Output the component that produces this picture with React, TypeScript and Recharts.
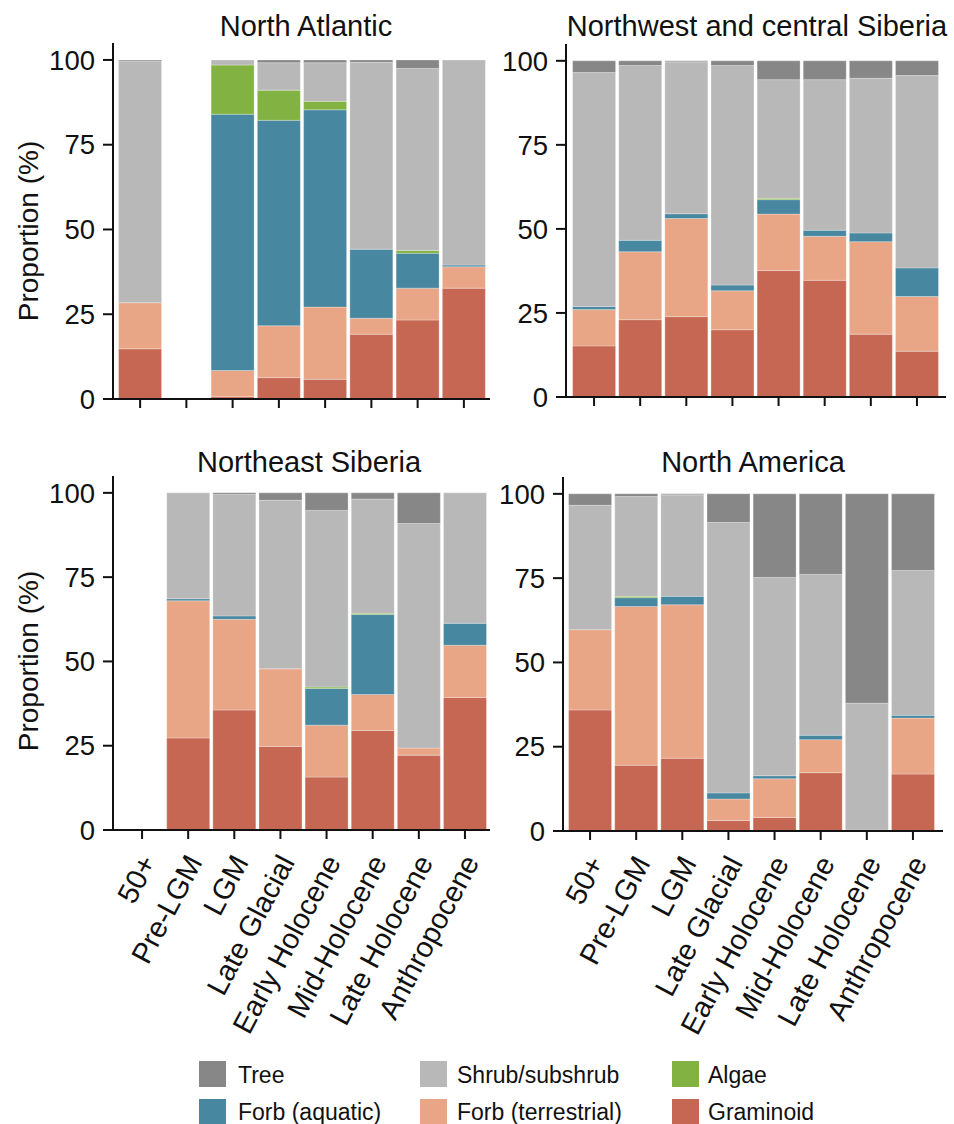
import React from 'react';
import { BarChart, Bar, XAxis, YAxis } from 'recharts';

const categories = ['50+', 'Pre-LGM', 'LGM', 'Late Glacial', 'Early Holocene', 'Mid-Holocene', 'Late Holocene', 'Anthropocene'];

const seriesKeys = ['graminoid', 'forbTerr', 'forbAq', 'algae', 'shrub', 'tree'];
const seriesNames = ['Graminoid', 'Forb (terrestrial)', 'Forb (aquatic)', 'Algae', 'Shrub/subshrub', 'Tree'];
const seriesColors = ['#c66753', '#e8a686', '#4787a0', '#82b242', '#b8b8b8', '#878787'];

const yTicks = [0, 25, 50, 75, 100];

// North Atlantic
const naGraminoid = [14.8, 0, 0.7, 6.3, 5.8, 19.1, 23.3, 32.7];
const naForbTerr = [13.6, 0, 7.7, 15.3, 21.3, 4.7, 9.4, 6.3];
const naForbAq = [0, 0, 75.6, 60.6, 58.2, 20.4, 10.3, 0.5];
const naAlgae = [0, 0, 14.5, 8.9, 2.5, 0, 0.8, 0];
const naShrub = [71.3, 0, 1.5, 8.1, 11.4, 55.1, 53.7, 60.5];
const naTree = [0.3, 0, 0, 0.8, 0.8, 0.7, 2.5, 0];

// Northwest and central Siberia
const nwGraminoid = [15.2, 23.0, 23.9, 20.0, 37.6, 34.7, 18.7, 13.6];
const nwForbTerr = [10.8, 20.2, 29.2, 11.6, 16.8, 13.1, 27.5, 16.3];
const nwForbAq = [0.9, 3.4, 1.4, 1.7, 4.3, 1.8, 2.6, 8.5];
const nwAlgae = [0, 0, 0, 0, 0.4, 0, 0, 0];
const nwShrub = [69.6, 52.0, 45.2, 65.3, 35.3, 44.8, 46.0, 57.2];
const nwTree = [3.5, 1.4, 0.3, 1.4, 5.6, 5.6, 5.2, 4.4];

// Northeast Siberia
const neGraminoid = [0, 27.3, 35.6, 24.8, 15.7, 29.5, 22.2, 39.3];
const neForbTerr = [0, 40.7, 26.9, 23.0, 15.4, 10.7, 2.1, 15.5];
const neForbAq = [0, 0.6, 1.0, 0, 10.9, 23.7, 0, 6.5];
const neAlgae = [0, 0, 0, 0, 0.4, 0.4, 0, 0];
const neShrub = [0, 31.4, 36.0, 50.0, 52.4, 33.9, 66.6, 38.7];
const neTree = [0, 0, 0.5, 2.2, 5.2, 1.8, 9.1, 0];

// North America
const amGraminoid = [35.9, 19.5, 21.6, 3.1, 4.0, 17.3, 0.1, 16.9];
const amForbTerr = [23.8, 47.1, 45.5, 6.4, 11.5, 9.8, 0.2, 16.6];
const amForbAq = [0, 2.6, 2.5, 1.8, 0.9, 1.3, 0, 0.8];
const amAlgae = [0, 0.4, 0, 0, 0, 0, 0, 0];
const amShrub = [36.9, 29.6, 30.1, 80.2, 58.8, 47.7, 37.6, 43.0];
const amTree = [3.4, 0.8, 0.3, 8.5, 24.8, 23.9, 62.1, 22.7];

const FONT = '"Liberation Sans", Arial, Helvetica, sans-serif';
const INK = '#111';

function buildRows(cols: number[][]) {
  return categories.map((cat, i) => {
    const row: Record<string, any> = { cat };
    seriesKeys.forEach((k, s) => {
      row[k] = cols[s][i];
    });
    return row;
  });
}

const naRows = buildRows([naGraminoid, naForbTerr, naForbAq, naAlgae, naShrub, naTree]);
const nwRows = buildRows([nwGraminoid, nwForbTerr, nwForbAq, nwAlgae, nwShrub, nwTree]);
const neRows = buildRows([neGraminoid, neForbTerr, neForbAq, neAlgae, neShrub, neTree]);
const amRows = buildRows([amGraminoid, amForbTerr, amForbAq, amAlgae, amShrub, amTree]);

const EmptyTick = () => <g />;

const RotTick = (props: any) => {
  const { x, y, payload } = props;
  const ax = x + 15;
  const ay = y + 21;
  return (
    <text
      x={ax}
      y={ay}
      transform={`rotate(-62, ${ax}, ${ay})`}
      textAnchor="end"
      fontSize={29}
      fontFamily={FONT}
      fill={INK}
    >
      {payload.value}
    </text>
  );
};

type PanelProps = {
  rows: any[];
  left: number;
  top: number;
  width: number;
  height: number;
  yAxisWidth: number;
  margin: { top: number; right: number; bottom: number; left: number };
  padding: { left: number; right: number };
  xAxisHeight: number;
  showLabels: boolean;
};

function Panel(p: PanelProps) {
  return (
    <div style={{ position: 'absolute', left: p.left, top: p.top, width: p.width, height: p.height }}>
      <BarChart width={p.width} height={p.height} data={p.rows} margin={p.margin} barCategoryGap={1.6}>
        {seriesKeys.map((k, i) => (
          <Bar
            key={k}
            dataKey={k}
            name={seriesNames[i]}
            stackId="s"
            fill={seriesColors[i]}
            stroke="#ffffff"
            strokeOpacity={0.35}
            strokeWidth={0.8}
            isAnimationActive={false}
          />
        ))}
        <XAxis
          dataKey="cat"
          type="category"
          interval={0}
          padding={p.padding}
          height={p.xAxisHeight}
          tickSize={9}
          tickMargin={2}
          axisLine={{ stroke: INK, strokeWidth: 2 }}
          tickLine={{ stroke: INK, strokeWidth: 2 }}
          tick={p.showLabels ? <RotTick /> : <EmptyTick />}
        />
        <YAxis
          type="number"
          domain={[0, 105]}
          ticks={yTicks}
          allowDataOverflow
          width={p.yAxisWidth}
          tickSize={10}
          tickMargin={8}
          axisLine={{ stroke: INK, strokeWidth: 2 }}
          tickLine={{ stroke: INK, strokeWidth: 2 }}
          tick={{ fontSize: 27.5, fill: INK, fontFamily: FONT }}
        />
      </BarChart>
    </div>
  );
}

const titles = [
  { text: 'North Atlantic', x: 306, y: 36 },
  { text: 'Northwest and central Siberia', x: 757, y: 36 },
  { text: 'Northeast Siberia', x: 309, y: 472 },
  { text: 'North America', x: 753, y: 472 },
];

const yLabels = [
  { x: 38, y: 231 },
  { x: 38, y: 661 },
];

const legendOrder = [5, 4, 3, 2, 1, 0];
const legendCols = [
  { sx: 199, tx: 238 },
  { sx: 420, tx: 457 },
  { sx: 672, tx: 708 },
];
const legendRows = [
  { sy: 1061, ty: 1083 },
  { sy: 1099, ty: 1120 },
];

export default function App() {
  return (
    <div style={{ position: 'absolute', left: 0, top: 0, width: 954, height: 1124, overflow: 'hidden', background: '#fff' }}>
      <Panel
        rows={naRows}
        left={0}
        top={0}
        width={500}
        height={440}
        yAxisWidth={113}
        margin={{ top: 43, right: 10, bottom: 11, left: 0 }}
        padding={{ left: 4, right: 3 }}
        xAxisHeight={30}
        showLabels={false}
      />
      <Panel
        rows={nwRows}
        left={480}
        top={0}
        width={474}
        height={440}
        yAxisWidth={86}
        margin={{ top: 44, right: 8, bottom: 13, left: 0 }}
        padding={{ left: 5, right: 6 }}
        xAxisHeight={30}
        showLabels={false}
      />
      <Panel
        rows={neRows}
        left={0}
        top={440}
        width={500}
        height={610}
        yAxisWidth={113}
        margin={{ top: 36, right: 10, bottom: 20, left: 0 }}
        padding={{ left: 6, right: 2 }}
        xAxisHeight={200}
        showLabels={true}
      />
      <Panel
        rows={amRows}
        left={480}
        top={440}
        width={474}
        height={610}
        yAxisWidth={83}
        margin={{ top: 37, right: 11, bottom: 19, left: 0 }}
        padding={{ left: 4, right: 7 }}
        xAxisHeight={200}
        showLabels={true}
      />
      <svg
        width={954}
        height={1124}
        style={{ position: 'absolute', left: 0, top: 0, pointerEvents: 'none' }}
      >
        {titles.map((t) => (
          <text key={t.text} x={t.x} y={t.y} textAnchor="middle" fontSize={29} fontFamily={FONT} fill={INK}>
            {t.text}
          </text>
        ))}
        {yLabels.map((l, i) => (
          <text
            key={i}
            x={l.x}
            y={l.y}
            transform={`rotate(-90, ${l.x}, ${l.y})`}
            textAnchor="middle"
            fontSize={28}
            fontFamily={FONT}
            fill={INK}
          >
            Proportion (%)
          </text>
        ))}
        {legendOrder.map((s, i) => {
          const c = legendCols[i % 3];
          const r = legendRows[Math.floor(i / 3)];
          return (
            <g key={seriesKeys[s]}>
              <rect x={c.sx} y={r.sy} width={27} height={26} fill={seriesColors[s]} />
              <text x={c.tx} y={r.ty} fontSize={23} fontFamily={FONT} fill={INK}>
                {seriesNames[s]}
              </text>
            </g>
          );
        })}
      </svg>
    </div>
  );
}
